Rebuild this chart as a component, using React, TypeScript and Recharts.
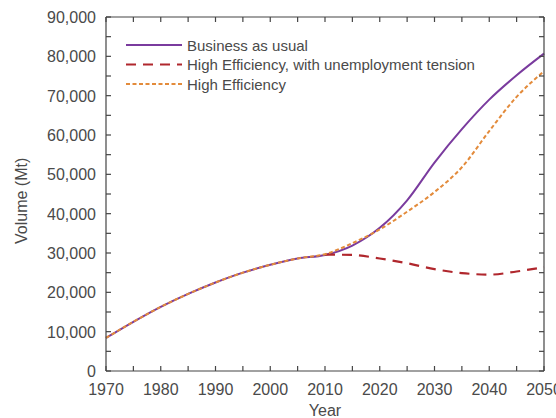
import React from "react";
import { LineChart, Line, XAxis, YAxis } from "recharts";

const years = [1970, 1975, 1980, 1985, 1990, 1995, 2000, 2005, 2010, 2015, 2020, 2025, 2030, 2035, 2040, 2045, 2050];
const businessAsUsual = [8400, 12500, 16300, 19600, 22500, 25000, 27000, 28600, 29500, 31900, 36400, 43400, 53000, 61500, 69000, 75200, 80700];
const highEfficiency = [8400, 12500, 16300, 19600, 22500, 25000, 27000, 28600, 29700, 32500, 36000, 40500, 45500, 51800, 61000, 69700, 76200];
const unemploymentTension = [null, null, null, null, null, null, null, null, 29600, 29500, 28600, 27400, 25900, 24900, 24500, 25300, 26400];

const xTicks = [1970, 1975, 1980, 1985, 1990, 1995, 2000, 2005, 2010, 2015, 2020, 2025, 2030, 2035, 2040, 2045, 2050];
const yTicks = [0, 5000, 10000, 15000, 20000, 25000, 30000, 35000, 40000, 45000, 50000, 55000, 60000, 65000, 70000, 75000, 80000, 85000, 90000];

const seriesDefs = [
  { key: "bau", name: "Business as usual", color: "#7a3b9e", width: 2, dash: undefined as string | undefined },
  { key: "unemp", name: "High Efficiency, with unemployment tension", color: "#b0272d", width: 2.2, dash: "10 7" },
  { key: "hieff", name: "High Efficiency", color: "#e38b3b", width: 2, dash: "4 2.5" },
];

const data = years.map((year, i) => ({
  year,
  bau: businessAsUsual[i],
  hieff: highEfficiency[i],
  unemp: unemploymentTension[i],
}));

const AXIS = "#444";
const TEXT = "#4a4a4a";
const FONT = "'Liberation Sans', Arial, sans-serif";

const XTick = (props: any) => {
  const { x, y, payload, side } = props;
  const v = payload.value;
  const dir = side === "bottom" ? -1 : 1;
  return (
    <g>
      <line x1={x} y1={y} x2={x} y2={y + dir * 5} stroke={AXIS} strokeWidth={1.2} />
      {side === "bottom" && v % 10 === 0 ? (
        <text x={x} y={y + 24} textAnchor="middle" fontSize={16} fill={TEXT} fontFamily={FONT}>
          {v}
        </text>
      ) : null}
    </g>
  );
};

const YTick = (props: any) => {
  const { x, y, payload, side } = props;
  const v = payload.value;
  const dir = side === "left" ? 1 : -1;
  return (
    <g>
      <line x1={x} y1={y} x2={x + dir * 5} y2={y} stroke={AXIS} strokeWidth={1.2} />
      {side === "left" && v % 10000 === 0 ? (
        <text x={x - 10} y={y + 6} textAnchor="end" fontSize={16} fill={TEXT} fontFamily={FONT}>
          {v.toLocaleString("en-US")}
        </text>
      ) : null}
    </g>
  );
};

const LegendOverlay = () => (
  <svg width={400} height={64} style={{ position: "absolute", left: 126, top: 35 }}>
    {seriesDefs.map((s, i) => (
      <g key={s.key}>
        <line
          x1={0}
          x2={56}
          y1={10 + i * 19.5}
          y2={10 + i * 19.5}
          stroke={s.color}
          strokeWidth={s.width}
          strokeDasharray={s.dash}
        />
        <text x={61} y={15.5 + i * 19.5} fontSize={15} fill={TEXT} fontFamily={FONT}>
          {s.name}
        </text>
      </g>
    ))}
  </svg>
);

export default function App() {
  return (
    <div style={{ position: "absolute", left: 0, top: 0, width: 556, height: 418, background: "#fff" }}>
      <LineChart width={556} height={418} data={data} margin={{ top: 16, right: 11, bottom: 0, left: 0 }}>
        <XAxis
          dataKey="year"
          type="number"
          domain={[1970, 2050]}
          ticks={xTicks}
          interval={0}
          height={47}
          tickSize={0}
          tickMargin={0}
          tickLine={false}
          axisLine={{ stroke: AXIS, strokeWidth: 1.2 }}
          tick={(p: any) => <XTick {...p} side="bottom" />}
          label={{ value: "Year", position: "insideBottom", offset: 0, dy: -2, fontSize: 16, fill: TEXT, fontFamily: FONT }}
        />
        <XAxis
          xAxisId="top"
          orientation="top"
          dataKey="year"
          type="number"
          domain={[1970, 2050]}
          allowDataOverflow
          ticks={xTicks}
          interval={0}
          height={1}
          tickSize={0}
          tickMargin={0}
          tickLine={false}
          axisLine={{ stroke: AXIS, strokeWidth: 1.2 }}
          tick={(p: any) => <XTick {...p} side="top" />}
        />
        <YAxis
          type="number"
          domain={[0, 90000]}
          ticks={yTicks}
          interval={0}
          width={106}
          tickSize={0}
          tickMargin={0}
          tickLine={false}
          axisLine={{ stroke: AXIS, strokeWidth: 1.2 }}
          tick={(p: any) => <YTick {...p} side="left" />}
          label={{ value: "Volume (Mt)", angle: -90, position: "insideLeft", offset: 21, dy: 50, fontSize: 16, fill: TEXT, fontFamily: FONT }}
        />
        <YAxis
          yAxisId="right"
          orientation="right"
          type="number"
          domain={[0, 90000]}
          allowDataOverflow
          ticks={yTicks}
          interval={0}
          width={1}
          tickSize={0}
          tickMargin={0}
          tickLine={false}
          axisLine={{ stroke: AXIS, strokeWidth: 1.2 }}
          tick={(p: any) => <YTick {...p} side="right" />}
        />
        {seriesDefs.map((s) => (
          <Line
            key={s.key}
            dataKey={s.key}
            name={s.name}
            type="monotone"
            stroke={s.color}
            strokeWidth={s.width}
            strokeDasharray={s.dash}
            dot={false}
            activeDot={false}
            isAnimationActive={false}
          />
        ))}
      </LineChart>
      <LegendOverlay />
    </div>
  );
}
